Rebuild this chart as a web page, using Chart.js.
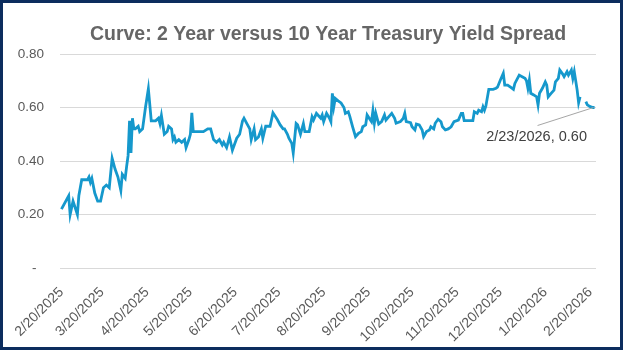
<!DOCTYPE html>
<html>
<head>
<meta charset="utf-8">
<script src="https://cdn.jsdelivr.net/npm/chart.js@4/dist/chart.umd.min.js"></script>
<style>
  html, body { margin: 0; padding: 0; background: #ffffff; }
  canvas { display: block; }
</style>
</head>
<body>
<canvas id="c" width="623" height="350"></canvas>
<script>
const chartTitle = "Curve: 2 Year versus 10 Year Treasury Yield Spread";

const tickLabels = ["2/20/2025","3/20/2025","4/20/2025","5/20/2025","6/20/2025","7/20/2025","8/20/2025","9/20/2025","10/20/2025","11/20/2025","12/20/2025","1/20/2026","2/20/2026"];

const yTicks = [0, 0.2, 0.4, 0.6, 0.8];

const dates = [
"2025-02-20","2025-02-25","2025-02-26","2025-02-28","2025-03-03","2025-03-04","2025-03-06","2025-03-10","2025-03-11","2025-03-12",
"2025-03-13","2025-03-15","2025-03-17","2025-03-19","2025-03-21","2025-03-23","2025-03-25","2025-03-27","2025-03-29","2025-03-31",
"2025-04-02","2025-04-03","2025-04-05","2025-04-06","2025-04-07","2025-04-08","2025-04-09","2025-04-10","2025-04-11","2025-04-12",
"2025-04-14","2025-04-15","2025-04-17","2025-04-19","2025-04-21","2025-04-23","2025-04-26","2025-04-28","2025-04-29","2025-04-30",
"2025-05-02","2025-05-04","2025-05-05","2025-05-07","2025-05-08","2025-05-09","2025-05-10","2025-05-12","2025-05-14","2025-05-16",
"2025-05-17","2025-05-19","2025-05-20","2025-05-21","2025-05-22","2025-05-24","2025-05-29","2025-06-01","2025-06-03","2025-06-05",
"2025-06-07","2025-06-09","2025-06-11","2025-06-12","2025-06-14","2025-06-15","2025-06-16","2025-06-18","2025-06-21","2025-06-23",
"2025-06-25","2025-06-26","2025-06-28","2025-06-30","2025-07-01","2025-07-03","2025-07-04","2025-07-06","2025-07-08","2025-07-09",
"2025-07-11","2025-07-14","2025-07-16","2025-07-19","2025-07-21","2025-07-23","2025-07-24","2025-07-26","2025-07-27","2025-07-29",
"2025-07-30","2025-08-01","2025-08-02","2025-08-04","2025-08-06","2025-08-07","2025-08-10","2025-08-12","2025-08-13","2025-08-15",
"2025-08-16","2025-08-18","2025-08-19","2025-08-20","2025-08-22","2025-08-24","2025-08-25","2025-08-26","2025-08-27","2025-08-28",
"2025-08-30","2025-09-01","2025-09-03","2025-09-04","2025-09-06","2025-09-07","2025-09-09","2025-09-11","2025-09-13","2025-09-15",
"2025-09-16","2025-09-18","2025-09-19","2025-09-21","2025-09-22","2025-09-23","2025-09-24","2025-09-25","2025-09-27","2025-09-29",
"2025-10-01","2025-10-02","2025-10-04","2025-10-06","2025-10-08","2025-10-09","2025-10-12","2025-10-14","2025-10-15","2025-10-16",
"2025-10-19","2025-10-20","2025-10-22","2025-10-23","2025-10-25","2025-10-27","2025-10-28","2025-10-30","2025-11-01","2025-11-02",
"2025-11-04","2025-11-05","2025-11-07","2025-11-09","2025-11-10","2025-11-12","2025-11-14","2025-11-16","2025-11-18","2025-11-21",
"2025-11-23","2025-11-24","2025-11-25","2025-11-28","2025-12-01","2025-12-02","2025-12-04","2025-12-05","2025-12-07","2025-12-08",
"2025-12-09","2025-12-10","2025-12-12","2025-12-15","2025-12-17","2025-12-18","2025-12-20","2025-12-22","2025-12-23","2025-12-25",
"2025-12-27","2025-12-29","2025-12-30","2026-01-02","2026-01-04","2026-01-06","2026-01-07","2026-01-08","2026-01-09","2026-01-10",
"2026-01-12","2026-01-14","2026-01-15","2026-01-16","2026-01-18","2026-01-20","2026-01-21","2026-01-22","2026-01-24","2026-01-26",
"2026-01-27","2026-01-29","2026-01-30","2026-02-01","2026-02-02","2026-02-04","2026-02-05","2026-02-07","2026-02-08","2026-02-09",
"2026-02-11","2026-02-12","2026-02-13","2026-02-15","2026-02-17","2026-02-18","2026-02-20","2026-02-22","2026-02-23"
];

const spread = [
0.22,0.27,0.20,0.25,0.20,0.27,0.33,0.33,0.34,0.32,
0.335,0.28,0.25,0.25,0.30,0.31,0.30,0.41,0.37,0.34,
0.29,0.35,0.335,0.38,0.42,0.55,0.43,0.56,0.52,0.52,
0.53,0.51,0.52,0.60,0.67,0.55,0.55,0.56,0.54,0.57,
0.50,0.51,0.53,0.52,0.48,0.49,0.47,0.48,0.47,0.48,
0.45,0.48,0.50,0.58,0.51,0.51,0.51,0.52,0.52,0.48,
0.47,0.48,0.46,0.47,0.45,0.47,0.49,0.44,0.485,0.50,
0.55,0.56,0.54,0.52,0.48,0.52,0.48,0.49,0.52,0.485,
0.53,0.53,0.58,0.555,0.535,0.52,0.52,0.50,0.485,0.466,
0.43,0.54,0.535,0.50,0.54,0.51,0.51,0.565,0.553,0.578,
0.572,0.56,0.572,0.547,0.578,0.56,0.547,0.653,0.603,0.634,
0.625,0.617,0.60,0.578,0.584,0.568,0.528,0.491,0.503,0.51,
0.528,0.535,0.572,0.555,0.547,0.588,0.541,0.578,0.538,0.547,
0.572,0.553,0.566,0.578,0.56,0.541,0.547,0.56,0.578,0.547,
0.543,0.528,0.516,0.538,0.535,0.516,0.491,0.51,0.516,0.528,
0.52,0.541,0.556,0.547,0.528,0.516,0.52,0.528,0.547,0.553,
0.578,0.578,0.551,0.551,0.551,0.584,0.578,0.59,0.584,0.603,
0.59,0.606,0.668,0.668,0.672,0.676,0.703,0.728,0.684,0.684,
0.676,0.668,0.69,0.721,0.715,0.709,0.70,0.672,0.703,0.653,
0.647,0.64,0.609,0.653,0.672,0.696,0.684,0.64,0.653,0.665,
0.696,0.709,0.74,0.725,0.715,0.734,0.721,0.74,0.709,0.734,
0.665,0.618,0.64,null,0.622,0.61,0.603,0.60,0.60
];

const START_UTC = Date.UTC(2025, 1, 20);
function isoToDay(iso) {
  const [y, m, d] = iso.split('-').map(Number);
  return (Date.UTC(y, m - 1, d) - START_UTC) / 86400000;
}
function mdyToDay(s) {
  const [m, d, y] = s.split('/').map(Number);
  return (Date.UTC(y, m - 1, d) - START_UTC) / 86400000;
}
function isoToMdy(iso) {
  const [y, m, d] = iso.split('-').map(Number);
  return m + '/' + d + '/' + y;
}
const tickDays = tickLabels.map(mdyToDay);
const points = dates.map((d, i) => ({ x: isoToDay(d), y: spread[i] }));

const FONT = '"Liberation Sans", Arial, sans-serif';

const decorPlugin = {
  id: 'decor',
  beforeDraw(chart) {
    const ctx = chart.ctx;
    ctx.save();
    ctx.fillStyle = '#ffffff';
    ctx.fillRect(0, 0, chart.width, chart.height);
    ctx.restore();
  },
  afterDatasetsDraw(chart) {
    const ctx = chart.ctx;
    const meta = chart.getDatasetMeta(0);
    const lastIdx = dates.length - 1;
    const pt = meta.data[lastIdx];
    const label = isoToMdy(dates[lastIdx]) + ', ' + spread[lastIdx].toFixed(2);
    ctx.save();
    ctx.strokeStyle = '#a6a6a6';
    ctx.lineWidth = 1;
    ctx.beginPath();
    ctx.moveTo(pt.x - 1, pt.y);
    ctx.lineTo(pt.x - 57, pt.y + 18);
    ctx.stroke();
    ctx.fillStyle = '#404040';
    ctx.font = '14.5px ' + FONT;
    ctx.textAlign = 'center';
    ctx.textBaseline = 'middle';
    ctx.fillText(label, pt.x - 58, pt.y + 29);
    ctx.restore();
  },
  afterDraw(chart) {
    const ctx = chart.ctx;
    const area = chart.chartArea;
    ctx.save();
    ctx.fillStyle = '#666666';
    ctx.font = 'bold 19.5px ' + FONT;
    ctx.textAlign = 'center';
    ctx.textBaseline = 'alphabetic';
    ctx.fillText(chartTitle, (area.left + area.right) / 2, 40);
    ctx.strokeStyle = '#0c2d5e';
    ctx.lineWidth = 3;
    ctx.strokeRect(1.5, 1.5, chart.width - 3, chart.height - 3);
    ctx.restore();
  }
};

new Chart(document.getElementById('c'), {
  type: 'line',
  data: {
    datasets: [{
      data: points,
      borderColor: '#1598cc',
      borderWidth: 2.8,
      pointRadius: 0,
      pointHoverRadius: 0,
      tension: 0,
      spanGaps: false,
      fill: false
    }]
  },
  options: {
    responsive: false,
    animation: false,
    devicePixelRatio: 1,
    layout: { padding: { top: 54, right: 27, left: 0, bottom: 0 } },
    plugins: {
      legend: { display: false },
      title: { display: false },
      tooltip: { enabled: false }
    },
    scales: {
      x: {
        type: 'linear',
        min: -1,
        max: 369,
        afterFit(s) { s.height = 82; },
        afterBuildTicks(s) { s.ticks = tickDays.map(v => ({ value: v })); },
        grid: { display: false, drawTicks: false },
        border: { display: false },
        ticks: {
          autoSkip: false,
          minRotation: 45,
          maxRotation: 45,
          padding: 16,
          color: '#595959',
          font: { family: FONT, size: 14 },
          callback(v, i) { return tickLabels[i]; }
        }
      },
      y: {
        min: 0,
        max: 0.8,
        afterFit(s) { s.width = 60; },
        afterBuildTicks(s) { s.ticks = yTicks.map(v => ({ value: v })); },
        grid: { color: '#d9d9d9', lineWidth: 1, drawTicks: false },
        border: { display: false },
        ticks: {
          padding: 16,
          color: '#595959',
          font: { family: FONT, size: 13.5 },
          callback(v) { return v === 0 ? '-  ' : v.toFixed(2); }
        }
      }
    }
  },
  plugins: [decorPlugin]
});
</script>
</body>
</html>
